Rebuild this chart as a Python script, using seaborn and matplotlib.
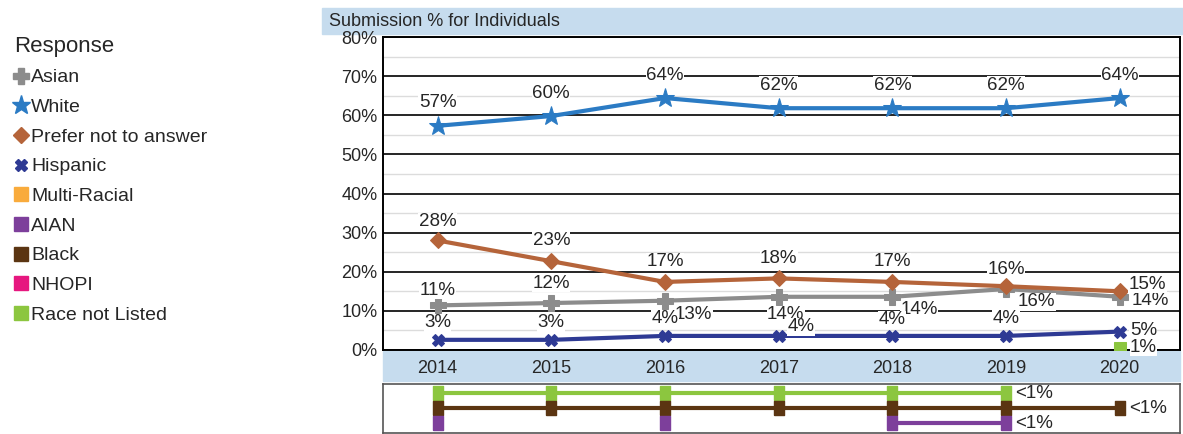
import numpy as np
import pandas as pd
import matplotlib
matplotlib.use("Agg")
import matplotlib.pyplot as plt
from matplotlib.lines import Line2D
from matplotlib.patches import Rectangle
from matplotlib.ticker import MultipleLocator
import seaborn as sns

sns.set_style("white")
plt.rcParams["font.family"] = ["Liberation Sans", "DejaVu Sans"]

years = [2014, 2015, 2016, 2017, 2018, 2019, 2020]
asian = [11.4, 12.0, 12.6, 13.6, 13.6, 15.6, 13.6]
white = [57.3, 59.8, 64.4, 61.8, 61.8, 61.8, 64.4]
prefer_not = [28.0, 22.7, 17.4, 18.3, 17.4, 16.3, 15.0]
hispanic = [2.6, 2.6, 3.6, 3.6, 3.6, 3.6, 4.7]
race_not_listed = [np.nan, np.nan, np.nan, np.nan, np.nan, np.nan, 0.6]

# small groups (all under 1%), shown in the strip below the chart
low_groups = ["Race not Listed", "Black", "AIAN"]
low_present = {
    "Race not Listed": [1, 1, 1, 1, 1, 1, 0],
    "Black": [1, 1, 1, 1, 1, 1, 1],
    "AIAN": [1, 0, 1, 0, 1, 1, 0],
}
low_label = "<1%"

legend_names = ["Asian", "White", "Prefer not to answer", "Hispanic", "Multi-Racial",
                "AIAN", "Black", "NHOPI", "Race not Listed"]
colors = {"Asian": "#8c8c8c", "White": "#2b7bc4", "Prefer not to answer": "#b5643a",
          "Hispanic": "#2e3a94", "Multi-Racial": "#f9ab3c", "AIAN": "#7d3f9b",
          "Black": "#5b3512", "NHOPI": "#e6177f", "Race not Listed": "#8cc63f"}
markers = {"Asian": "P", "White": "*", "Prefer not to answer": "D", "Hispanic": "X"}
msizes = {"Asian": 11, "White": 14, "Prefer not to answer": 8, "Hispanic": 9}

series = {"Asian": asian, "White": white, "Prefer not to answer": prefer_not,
          "Hispanic": hispanic}

# label placement: (dx px, dy px, ha); dy positive = up
place = {
    "White": [(0, 23, "center")] * 7,
    "Prefer not to answer": [(0, 19, "center"), (0, 21, "center"), (0, 20, "center"),
                             (0, 20, "center"), (0, 20, "center"), (0, 17, "center"),
                             (9, 7, "left")],
    "Asian": [(0, 15, "center"), (0, 20, "center"), (10, -14, "left"), (7, -18, "center"),
              (8, -13, "left"), (12, -13, "left"), (12, -4, "left")],
    "Hispanic": [(0, 17, "center"), (0, 17, "center"), (0, 17, "center"), (22, 9, "center"),
                 (0, 16, "center"), (0, 17, "center"), (10, 1, "left")],
}
px = 0.72
lab_fs = 13.5

fig = plt.figure(figsize=(11.83, 4.34), dpi=100)
W, H = 1183, 434


def fx(x):
    return x / W


def fy(y):
    return 1 - y / H


band = "#c6dcee"
fig.patches.append(Rectangle((fx(322), fy(34)), fx(1183 - 322), 26 / H,
                             transform=fig.transFigure, color=band, zorder=-10))
fig.text(fx(329), fy(21), "Submission % for Individuals", fontsize=13, va="center", ha="left")
fig.patches.append(Rectangle((fx(383), fy(381)), fx(1180 - 383), 30 / H,
                             transform=fig.transFigure, color=band, zorder=-10))

ax = fig.add_axes([fx(383), fy(350), fx(1180 - 383), (350 - 37) / H])
ax.set_axisbelow(True)
for name, vals in series.items():
    sns.lineplot(x=years, y=vals, ax=ax, color=colors[name], lw=3, marker=markers[name],
                 markersize=msizes[name], markeredgecolor=colors[name], zorder=3)
    for i, (yr, v) in enumerate(zip(years, vals)):
        dx, dy, ha = place[name][i]
        ax.annotate(f"{v:.0f}%", (yr, v), xytext=(dx * px, dy * px), textcoords="offset points",
                    ha=ha, va="center", fontsize=lab_fs, zorder=5,
                    bbox=dict(fc="white", ec="none", pad=0.3))
sns.lineplot(x=years, y=race_not_listed, ax=ax, color=colors["Race not Listed"], lw=0,
             marker="s", markersize=9, markeredgecolor=colors["Race not Listed"], zorder=3)
ax.annotate(f"{race_not_listed[-1]:.0f}%", (years[-1], race_not_listed[-1]),
            xytext=(10 * px, 0), textcoords="offset points", ha="left", va="center",
            fontsize=lab_fs, zorder=4, bbox=dict(fc="white", ec="none", pad=0.1))

ax.set_xlim(2013.52, 2020.53)
ax.set_ylim(0, 80)
ax.yaxis.set_minor_locator(MultipleLocator(5))
ax.set_yticks(range(0, 81, 10))
ax.set_yticklabels([f"{t}%" for t in range(0, 81, 10)], fontsize=13)
ax.set_xticks(years)
ax.set_xticklabels([str(y) for y in years], fontsize=13)
ax.tick_params(axis="both", length=0)
ax.tick_params(axis="x", pad=7)
ax.tick_params(axis="y", pad=4)
ax.grid(which="major", axis="y", color="black", lw=1.2)
ax.grid(which="minor", axis="y", color="#dcdcdc", lw=1)
for s in ax.spines.values():
    s.set_color("black")
    s.set_linewidth(1.4)

# lower strip with the <1% groups (plain plot keeps the gaps between missing years)
ax2 = fig.add_axes([fx(383), fy(433), fx(1180 - 383), (433 - 384) / H])
rect = [(-0.35, -0.5), (0.35, -0.5), (0.35, 0.5), (-0.35, 0.5), (-0.35, -0.5)]
for row, name in enumerate(low_groups):
    level = len(low_groups) - 1 - row
    yv = [level if p else np.nan for p in low_present[name]]
    ax2.plot(years, yv, color=colors[name], lw=3, marker=rect, markersize=9.5,
             markeredgecolor=colors[name], clip_on=False)
    last = max(i for i, p in enumerate(low_present[name]) if p)
    ax2.text(years[last] + 0.08, level, low_label, fontsize=lab_fs, ha="left", va="center")
ax2.set_xlim(2013.52, 2020.53)
ax2.set_ylim(-0.65, 2.6)
ax2.set_xticks([])
ax2.set_yticks([])
for s in ax2.spines.values():
    s.set_color("#555555")
    s.set_linewidth(1.2)

handles = []
for name in legend_names:
    if name in markers:
        handles.append(Line2D([], [], lw=0, marker=markers[name], color=colors[name],
                              markersize=msizes[name]))
    else:
        handles.append(Line2D([], [], lw=0, marker="s", color=colors[name], markersize=10))
leg = fig.legend(handles, legend_names, loc="upper left", bbox_to_anchor=(fx(4), fy(26)),
                 frameon=False, fontsize=14, title="Response", title_fontsize=16,
                 handlelength=0.7, handletextpad=0.2, labelspacing=0.62, borderpad=0,
                 alignment="left")

fig.savefig("out.png", dpi=100)
